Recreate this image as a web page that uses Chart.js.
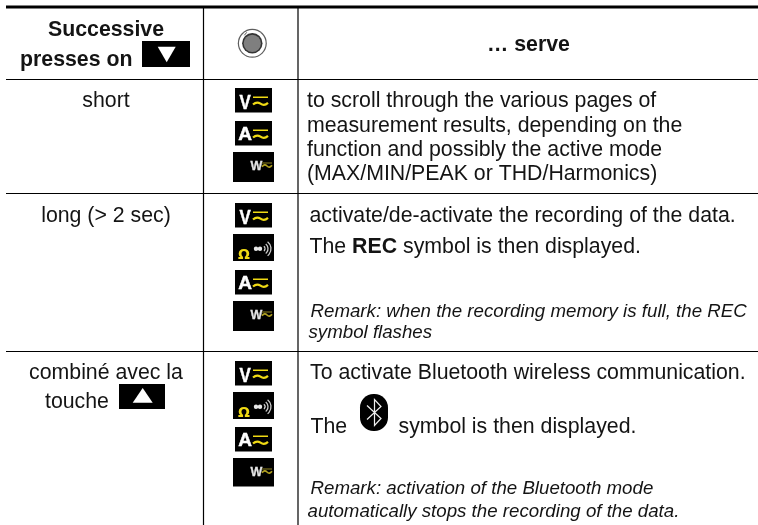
<!DOCTYPE html>
<html>
<head>
<meta charset="utf-8">
<script src="https://cdn.jsdelivr.net/npm/chart.js@4"></script>
<style>
    html, body { margin: 0; padding: 0; background: #fff; }
    canvas { display: block; }
</style>
</head>
<body>
<canvas id="table-chart" width="758" height="525"></canvas>
<script>
// table content
const headerLeft = ["Successive", "presses on"]
const headerRight = "… serve"
const rowLabels = [["short"], ["long (> 2 sec)"], ["combiné avec la", "touche"]]
const rowIcons = [["V", "A", "W"], ["V", "O", "A", "W"], ["V", "O", "A", "W"]]
const rowOneText = [
    "to scroll through the various pages of",
    "measurement results, depending on the",
    "function and possibly the active mode",
    "(MAX/MIN/PEAK or THD/Harmonics)"
]
const rowTwoText = ["activate/de-activate the recording of the data.", "The ", "REC", " symbol is then displayed."]
const rowTwoRemark = ["Remark: when the recording memory is full, the REC", "symbol flashes"]
const rowThreeText = ["To activate Bluetooth wireless communication.", "The", "symbol is then displayed."]
const rowThreeRemark = ["Remark: activation of the Bluetooth mode", "automatically stops the recording of the data."]

// table rules, in the 758x525 units of the two axes
const columnRules = [203.5, 298]
const rowRules = [79.5, 193.5, 351.5]

const BODY_FONT = "21.3px 'Liberation Sans'"
const BOLD_FONT = "bold 21.3px 'Liberation Sans'"
const REMARK_FONT = "italic 18.7px 'Liberation Sans'"
const INK = "#141414"
const YELLOW = "#f0da14"

function rule(x0, y0, x1, y1, width) {
    return {
        data: [{ x: x0, y: y0 }, { x: x1, y: y1 }],
        showLine: true,
        borderColor: "#000",
        borderWidth: width,
        pointRadius: 0,
        clip: false
    }
}

const ruleDatasets = [rule(6, 7, 758, 7, 3)]
rowRules.forEach(y => ruleDatasets.push(rule(6, y, 758, y, 1.2)))
columnRules.forEach(x => ruleDatasets.push(rule(x, 8, x, 525, 1.2)))

// everything that is not a rule goes through this plugin
const tableCells = {
    id: "tableCells",
    afterDatasetsDraw(chart) {
        const { ctx, scales } = chart
        const px = v => scales.x.getPixelForValue(v)
        const py = v => scales.y.getPixelForValue(v)

        // the reference is a slightly soft scan
        ctx.save()
        ctx.filter = "blur(0.35px)"

        function text(str, x, y, font, align) {
            ctx.font = font
            ctx.fillStyle = INK
            ctx.textAlign = align || "left"
            ctx.textBaseline = "alphabetic"
            ctx.fillText(str, px(x), py(y))
        }

        function box(x0, y0, x1, y1, color) {
            ctx.fillStyle = color || "#000"
            ctx.fillRect(px(x0), py(y0), px(x1) - px(x0), py(y1) - py(y0))
        }

        function triangle(x0, y0, x1, y1, up) {
            ctx.fillStyle = "#fff"
            ctx.beginPath()
            ctx.moveTo(px(x0), py(up ? y1 : y0))
            ctx.lineTo(px(x1), py(up ? y1 : y0))
            ctx.lineTo(px((x0 + x1) / 2), py(up ? y0 : y1))
            ctx.closePath()
            ctx.fill()
        }

        function tilde(x0, x1, y, width, color) {
            const w = x1 - x0
            ctx.strokeStyle = color
            ctx.lineWidth = width
            ctx.beginPath()
            ctx.moveTo(px(x0), py(y + 0.8))
            ctx.quadraticCurveTo(px(x0 + w * 0.25), py(y - 2.6), px(x0 + w * 0.5), py(y))
            ctx.quadraticCurveTo(px(x0 + w * 0.75), py(y + 2.6), px(x1), py(y - 0.8))
            ctx.stroke()
        }

        function letterIcon(letter, top) {
            box(235, top, 272, top + 24.5)
            const isV = letter === "V"
            ctx.save()
            ctx.translate(px(245), py(top + (isV ? 21 : 18.7)))
            ctx.scale(isV ? 0.8 : 1, 1)
            ctx.font = isV ? "bold 21px 'Liberation Sans'" : "bold 19px 'Liberation Sans'"
            ctx.fillStyle = "#fff"
            ctx.strokeStyle = "#fff"
            ctx.lineWidth = 0.5
            ctx.textAlign = "center"
            ctx.strokeText(letter, 0, 0)
            ctx.fillText(letter, 0, 0)
            ctx.restore()
            box(253, top + 8.5, 268, top + 10, YELLOW)
            tilde(253, 268, top + 15.7, 2.2, YELLOW)
        }

        function wattIcon(top, bottom) {
            box(233, top, 274, bottom)
            ctx.font = "bold 12.5px 'Liberation Sans'"
            ctx.fillStyle = "#e4e4e4"
            ctx.strokeStyle = "#e4e4e4"
            ctx.lineWidth = 0.3
            ctx.textAlign = "left"
            ctx.strokeText("W", px(250.5), py(top + 18))
            ctx.fillText("W", px(250.5), py(top + 18))
            box(262, top + 10.5, 272, top + 11.5, "#8f8420")
            tilde(262, 272, top + 14, 1.6, "#b0a020")
        }

        function soundIcon(top) {
            box(233, top, 274, top + 27)
            ctx.font = "bold 14px 'DejaVu Sans'"
            ctx.fillStyle = YELLOW
            ctx.textAlign = "left"
            ctx.fillText("Ω", px(238), py(top + 24.7))
            ctx.fillStyle = "#e8e8e8"
            ctx.beginPath()
            ctx.arc(px(256), py(top + 14.7), 2.2, 0, Math.PI * 2)
            ctx.arc(px(260), py(top + 14.7), 2.2, 0, Math.PI * 2)
            ctx.fill()
            ctx.strokeStyle = "#ccc"
            ctx.lineWidth = 1.3
            ;[3, 6, 9].forEach(r => {
                ctx.beginPath()
                ctx.arc(px(262), py(top + 14.7), r, -0.9, 0.9)
                ctx.stroke()
            })
        }

        // header row
        text(headerLeft[0], 106, 36, BOLD_FONT, "center")
        text(headerLeft[1], 20, 65.5, BOLD_FONT)
        box(142, 41, 190, 67)
        triangle(157.7, 46.7, 175.7, 62.3, false)
        text(headerRight, 528.5, 50.5, BOLD_FONT, "center")

        // selector knob
        const cx = px(252.3), cy = py(43.3)
        ;[[14.5, "#5e5e5e"], [13.3, "#fff"], [10.2, "#333"], [8.6, "#7f7f7f"]].forEach(([r, color]) => {
            ctx.fillStyle = color
            ctx.beginPath()
            ctx.arc(cx, cy, r, 0, Math.PI * 2)
            ctx.fill()
        })
        ctx.strokeStyle = "#555"
        ctx.lineWidth = 1
        ctx.beginPath()
        ctx.moveTo(cx - 8, cy - 8)
        ctx.lineTo(cx - 5.5, cy - 11)
        ctx.stroke()

        // first column
        text(rowLabels[0][0], 106, 107, BODY_FONT, "center")
        text(rowLabels[1][0], 106, 221.5, BODY_FONT, "center")
        text(rowLabels[2][0], 106, 378.5, BODY_FONT, "center")
        text(rowLabels[2][1], 45, 407.5, BODY_FONT)
        box(119, 384, 165, 409)
        triangle(132.7, 388, 152.7, 402.7, true)

        // icon column, tops of each icon
        const iconTops = [[88, 121, 152], [203, 234, 270, 301], [361, 392, 427, 458]]
        const wattBottoms = [182, 331, 486.5]
        rowIcons.forEach((icons, r) => {
            icons.forEach((kind, i) => {
                const top = iconTops[r][i]
                if (kind === "W") wattIcon(top, wattBottoms[r])
                else if (kind === "O") soundIcon(top)
                else letterIcon(kind, top)
            })
        })

        // description column
        const rowOneLines = [107, 131.5, 156, 180]
        rowOneText.forEach((line, i) => text(line, 307, rowOneLines[i], BODY_FONT))

        text(rowTwoText[0], 309.5, 221.5, BODY_FONT)
        let x = 309.5
        text(rowTwoText[1], x, 253, BODY_FONT)
        x += ctx.measureText(rowTwoText[1]).width
        text(rowTwoText[2], x, 253, BOLD_FONT)
        x += ctx.measureText(rowTwoText[2]).width
        text(rowTwoText[3], x, 253, BODY_FONT)
        text(rowTwoRemark[0], 310.5, 316.5, REMARK_FONT)
        text(rowTwoRemark[1], 308.5, 338, REMARK_FONT)

        text(rowThreeText[0], 310, 379, BODY_FONT)
        text(rowThreeText[1], 310.5, 432.5, BODY_FONT)
        text(rowThreeText[2], 398.5, 432.5, BODY_FONT)
        text(rowThreeRemark[0], 310.5, 494, REMARK_FONT)
        text(rowThreeRemark[1], 307.5, 516.5, REMARK_FONT)

        // bluetooth badge
        const bx = px(374), by = py(412.5)
        ctx.fillStyle = "#000"
        ctx.beginPath()
        ctx.roundRect(bx - 14, by - 18.5, 28, 37, 13.5)
        ctx.fill()
        ctx.strokeStyle = "#f0f0f0"
        ctx.lineWidth = 1.2
        ctx.beginPath()
        ctx.moveTo(bx - 7, by - 7)
        ctx.lineTo(bx + 7, by + 6)
        ctx.lineTo(bx + 0.5, by + 13)
        ctx.lineTo(bx + 0.5, by - 13)
        ctx.lineTo(bx + 7, by - 6)
        ctx.lineTo(bx - 7, by + 7)
        ctx.stroke()

        ctx.restore()
    }
}

new Chart(document.getElementById("table-chart"), {
    type: "scatter",
    data: { datasets: ruleDatasets },
    options: {
        responsive: false,
        animation: false,
        events: [],
        layout: { padding: 0 },
        plugins: { legend: { display: false }, tooltip: { enabled: false } },
        scales: {
            x: { type: "linear", display: false, min: 0, max: 758 },
            y: { type: "linear", display: false, reverse: true, min: 0, max: 525 }
        }
    },
    plugins: [tableCells]
})
</script>
</body>
</html>
